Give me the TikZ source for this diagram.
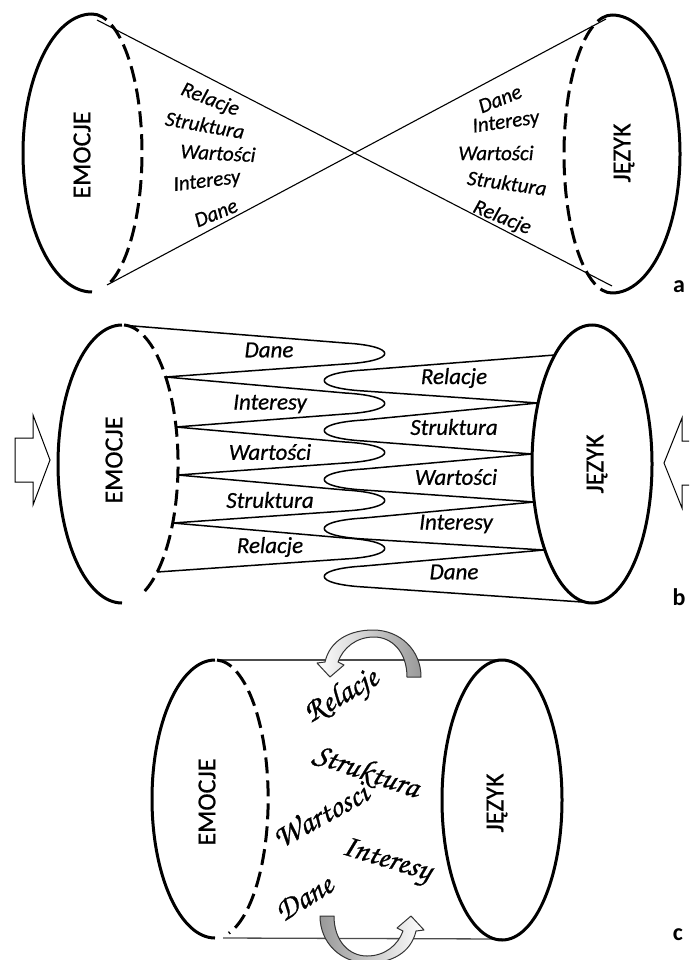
\documentclass[tikz,border=0pt]{standalone}
\usepackage{fontspec}
\setmainfont{Carlito}
\newfontfamily\labfont{Carlito}[FakeBold=0.6]
\newfontfamily\chorusfont{TeX Gyre Chorus}[FakeBold=0.8]
\usetikzlibrary{calc}
\begin{document}
\begin{tikzpicture}[x=1pt,y=-1pt,
  thickline/.style={line width=3pt},
  dashline/.style={line width=3pt, dash pattern=on 16pt off 7pt},
  thinline/.style={line width=1.1pt},
  stripline/.style={line width=1.5pt, line join=round},
  alab/.style={font=\fontsize{21}{24}\selectfont\labfont\itshape, inner sep=0pt},
  blab/.style={font=\fontsize{23}{26}\selectfont\labfont\itshape, inner sep=0pt},
  bigword/.style={font=\fontsize{26}{30}\selectfont\labfont, rotate=90, inner sep=0pt},
  partlab/.style={font=\fontsize{24}{28}\selectfont\bfseries, inner sep=0pt},
  clab/.style={font=\fontsize{32}{36}\selectfont\chorusfont, inner sep=0pt},
  hollow/.style={draw=black, line width=1pt, fill=white, line join=miter},
  curvedarrow/.style={draw=black!80, line width=1pt, line join=round}
]
\useasboundingbox (0,0) rectangle (689,960);
\clip (0,0) rectangle (689,960);
\fill[white] (0,0) rectangle (689,960);

% ---------------- part a ----------------
\draw[thickline] (92,14) arc[start angle=-90, end angle=-270, x radius=69, y radius=139];
\draw[dashline] (92,14) arc[start angle=-90, end angle=72, x radius=50, y radius=139];
\draw[thickline] (612,15) arc[start angle=-90, end angle=90, x radius=68, y radius=139];
\draw[dashline] (612,15) arc[start angle=-90, end angle=-270, x radius=48, y radius=139];
\coordinate (aL1) at (97,20);
\coordinate (aL2) at (107,285);
\coordinate (aR1) at (606,19);
\coordinate (aR2) at (612,286);
\draw[thinline] (aL1) -- (aR2);
\draw[thinline] (aL2) -- (aR1);
\node[bigword] (emoA) at (82,155) {EMOCJE};
\node[bigword] (jezA) at (624,153) {JĘZYK};
\node[alab, rotate=-21] (aRel1) at (210,100) {Relacje};
\node[alab, rotate=-10] (aStr1) at (205,125) {Struktura};
\node[alab, rotate=-3] (aWar1) at (218,153) {Wartości};
\node[alab, rotate=7] (aInt1) at (207,182) {Interesy};
\node[alab, rotate=22] (aDan1) at (216,213) {Dane};
\node[alab, rotate=22] (aDan2) at (500,99) {Dane};
\node[alab, rotate=8] (aInt2) at (506,123) {Interesy};
\node[alab, rotate=0] (aWar2) at (496,153) {Wartości};
\node[alab, rotate=-8] (aStr2) at (507,183) {Struktura};
\node[alab, rotate=-22] (aRel2) at (502,218) {Relacje};
\node[partlab] (la) at (679,287) {a};

% ---------------- part b ----------------
\draw[thickline] (122,325) arc[start angle=-90, end angle=-270, x radius=64, y radius=139];
\draw[dashline] (124,325) arc[start angle=-88, end angle=68, x radius=56, y radius=139];
\draw[thickline] (592,464) ellipse[x radius=60, y radius=139];
\coordinate (L1) at (127,325.5);
\coordinate (L2) at (165.6,377);
\coordinate (L3) at (175.9,427);
\coordinate (L4) at (177.8,475);
\coordinate (L5) at (172.7,523);
\coordinate (L6) at (157.2,572);
\coordinate (R1) at (554.7,355);
\coordinate (R2) at (538,403);
\coordinate (R3) at (532.2,454);
\coordinate (R4) at (534.3,502);
\coordinate (R5) at (544,550);
\coordinate (R6) at (582,602);
\coordinate (T1) at (385,353);
\coordinate (T2) at (385,403);
\coordinate (T3) at (385,452);
\coordinate (T4) at (385,500);
\coordinate (T5) at (385,548);
\coordinate (U1) at (324,380);
\coordinate (U2) at (324,430);
\coordinate (U3) at (324,479);
\coordinate (U4) at (324,528);
\coordinate (U5) at (324,576);
\draw[stripline] (L1)
  -- ($(T1)+(-40,-10)$) .. controls ($(T1)+(13,-7)$) and ($(T1)+(13,8)$) .. ($(T1)+(-40,11)$) -- (L2)
  -- ($(T2)+(-40,-10)$) .. controls ($(T2)+(13,-7)$) and ($(T2)+(13,8)$) .. ($(T2)+(-40,11)$) -- (L3)
  -- ($(T3)+(-40,-10)$) .. controls ($(T3)+(13,-7)$) and ($(T3)+(13,8)$) .. ($(T3)+(-40,11)$) -- (L4)
  -- ($(T4)+(-40,-10)$) .. controls ($(T4)+(13,-7)$) and ($(T4)+(13,8)$) .. ($(T4)+(-40,11)$) -- (L5)
  -- ($(T5)+(-40,-10)$) .. controls ($(T5)+(13,-7)$) and ($(T5)+(13,8)$) .. ($(T5)+(-40,11)$) -- (L6);
\draw[stripline] (R1)
  -- ($(U1)+(40,-10)$) .. controls ($(U1)+(-13,-7)$) and ($(U1)+(-13,8)$) .. ($(U1)+(40,11)$) -- (R2)
  -- ($(U2)+(40,-10)$) .. controls ($(U2)+(-13,-7)$) and ($(U2)+(-13,8)$) .. ($(U2)+(40,11)$) -- (R3)
  -- ($(U3)+(40,-10)$) .. controls ($(U3)+(-13,-7)$) and ($(U3)+(-13,8)$) .. ($(U3)+(40,11)$) -- (R4)
  -- ($(U4)+(40,-10)$) .. controls ($(U4)+(-13,-7)$) and ($(U4)+(-13,8)$) .. ($(U4)+(40,11)$) -- (R5)
  -- ($(U5)+(40,-10)$) .. controls ($(U5)+(-13,-7)$) and ($(U5)+(-13,8)$) .. ($(U5)+(40,11)$) -- (R6);
\node[blab] (bDan1) at (269,350) {Dane};
\node[blab] (bInt1) at (270,404) {Interesy};
\node[blab] (bWar1) at (270,452) {Wartości};
\node[blab] (bStr1) at (270,500) {Struktura};
\node[blab] (bRel1) at (270,547) {Relacje};
\node[blab] (bRel2) at (454,378) {Relacje};
\node[blab] (bStr2) at (454,427) {Struktura};
\node[blab] (bWar2) at (456,477) {Wartości};
\node[blab] (bInt2) at (456,524) {Interesy};
\node[blab] (bDan2) at (454,572) {Dane};
\node[bigword] (emoB) at (114,460) {EMOCJE};
\node[bigword] (jezB) at (597,464) {JĘZYK};
\draw[hollow] (15,438) -- (33,438) -- (33,415) -- (50,460) -- (33,505) -- (33,482) -- (15,482) -- cycle;
\draw[hollow] (700,441) -- (682,441) -- (682,418) -- (664,463) -- (682,508) -- (682,485) -- (700,485);
\node[partlab] (lb) at (679,597) {b};

% ---------------- part c ----------------
\draw[line width=1.3pt, black!70] (220,660) coordinate (cTL) -- (502,660) coordinate (cTR);
\draw[line width=1.3pt, black!70] (223,938) coordinate (cBL) -- (502,939) coordinate (cBR);
\draw[thickline] (215,660) arc[start angle=-90, end angle=-270, x radius=63, y radius=139];
\draw[dashline] (217,660) arc[start angle=-88, end angle=75, x radius=53, y radius=139];
\draw[thickline] (502,800) ellipse[x radius=60, y radius=140];
\node[bigword] (emoC) at (207,802) {EMOCJE};
\node[bigword] (jezC) at (497,803) {JĘZYK};
\node[clab, rotate=30] (cRel) at (342,697) {Relacje};
\node[clab, rotate=-19] (cStr) at (366,772) {Struktura};
\node[clab, rotate=29] (cWar) at (320,815) {Wartosci};
\node[clab, rotate=-17] (cInt) at (386,862) {Interesy};
\node[clab, rotate=32] (cDan) at (304,898) {Dane};
\path[curvedarrow, left color=white, right color=black!40] (330,677) -- (317,663) -- (325,662)
  .. controls (330,640) and (350,630) .. (373,630)
  .. controls (400,630) and (421,650) .. (421,677) -- (407,677)
  .. controls (407,652) and (392,637) .. (374,637)
  .. controls (356,637) and (343,648) .. (338,662) -- (344,665) -- cycle;
\begin{scope}[rotate around={180:(370.5,796.5)}]
\path[curvedarrow, left color=black!40, right color=white] (330,677) -- (317,663) -- (325,662)
  .. controls (330,640) and (350,630) .. (373,630)
  .. controls (400,630) and (421,650) .. (421,677) -- (407,677)
  .. controls (407,652) and (392,637) .. (374,637)
  .. controls (356,637) and (343,648) .. (338,662) -- (344,665) -- cycle;
\end{scope}
\node[partlab] (lc) at (678,935) {c};
\end{tikzpicture}
\end{document}
